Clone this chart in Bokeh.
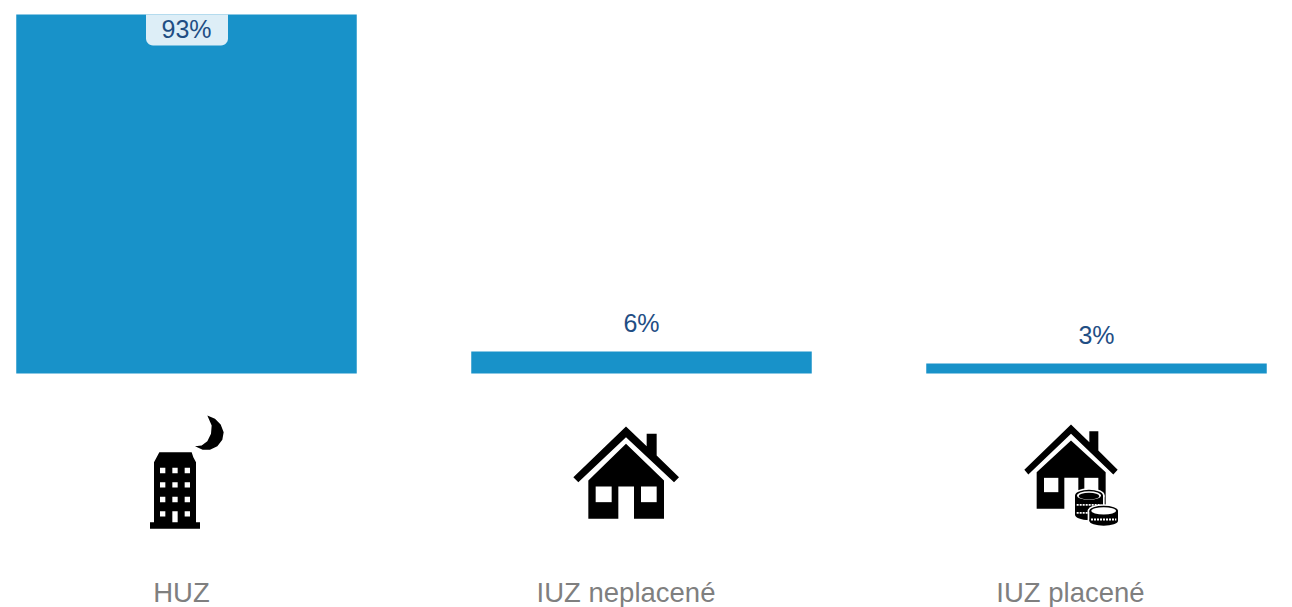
from bokeh.plotting import figure
from bokeh.models import Range1d, LinearAxis, FixedTicker
from bokeh.core.properties import value
from bokeh.embed import file_html
from bokeh.resources import INLINE
import numpy as np

categories = ["HUZ", "IUZ neplacené", "IUZ placené"]
shares = [93, 5.7, 2.6]

FONT = "Liberation Sans"
BAR = "#1892C9"
INK = "#1F4E84"
GREY = "#7F7F7F"
W, H = 1276, 576
LEFT, TOP = 0, 0          # page position of the plot frame
BASE, SCALE = 373, 359 / 93  # page y of value 0, pixels per percent
BAR_X, BAR_STEP, BAR_W = 186, 455, 340.5
LAB_X, LAB_STEP = 181, 444.5

p = figure(frame_width=W, frame_height=H, width=W, height=607,
           output_backend="svg", toolbar_location=None,
           x_axis_location=None, y_axis_location=None,
           x_range=Range1d((LEFT - BAR_X) / BAR_STEP, (LEFT + W - BAR_X) / BAR_STEP),
           y_range=Range1d((BASE - TOP - H) / SCALE, (BASE - TOP) / SCALE),
           min_border=0, min_border_left=0, min_border_right=0, min_border_top=0,
           min_border_bottom=0, outline_line_color=None, background_fill_color="white")
p.grid.visible = False

# reference-pixel space for the pictograms (half a pixel left of the frame edge)
p.extra_x_ranges["px"] = Range1d(LEFT + 0.5, LEFT + W + 0.5)
p.extra_y_ranges["py"] = Range1d(TOP + H, TOP)
p.extra_x_ranges["lab"] = Range1d((LEFT - LAB_X) / LAB_STEP, (LEFT + W - LAB_X) / LAB_STEP)

axis = LinearAxis(x_range_name="lab", ticker=FixedTicker(ticks=[0, 1, 2]),
                  major_label_overrides={i: c for i, c in enumerate(categories)},
                  axis_line_color=None, major_tick_line_color=None, minor_tick_line_color=None,
                  major_tick_in=0, major_tick_out=0, minor_tick_in=0, minor_tick_out=0,
                  major_label_standoff=0, major_label_text_font=FONT,
                  major_label_text_font_size="27.5px", major_label_text_color=GREY)
p.add_layout(axis, "below")

xs = list(range(len(categories)))
p.vbar(x=xs, top=shares, bottom=0, width=BAR_W / BAR_STEP, fill_color=BAR, line_color=None)


def shape(points, ox, oy, color="black", k=3.0):
    a = np.array(points, dtype=float)
    p.patch(a[:, 0] / k + ox, a[:, 1] / k + oy, fill_color=color, line_color=None,
            x_range_name="px", y_range_name="py")


# badge behind the 93% label
r = 7
t = np.linspace(0, np.pi / 2, 8)
left_c = [(146 + r - r * np.cos(a), 45 - r + r * np.sin(a)) for a in t]
right_c = [(228 - r + r * np.sin(a), 45 - r + r * np.cos(a)) for a in t]
shape([(146, 14)] + left_c + right_c + [(228, 14)], 0, 0, "#DDEEF7", k=1.0)

p.text(x=xs, y=shares, text=[f"{round(v)}%" for v in shares],
       y_offset=[14, -28, -28], text_align="center", text_baseline="middle",
       text_font=value(FONT), text_font_size="25px", text_color=INK)

# ---- building with moon
O = (130, 400)
shape([(232, 45), (255, 55), (272, 72), (281, 95), (277, 118), (262, 137), (240, 148), (218, 148),
       (195, 137), (215, 135), (232, 122), (243, 100), (245, 75)], *O)
shape([(60, 385), (60, 365), (72, 365), (72, 185), (80, 170), (88, 155), (185, 155), (190, 170),
       (198, 185), (198, 365), (210, 365), (210, 385)], *O)
for wy in (210, 253, 297, 340):
    for wx in (98, 135, 172):
        if wy == 340 and wx == 135:
            continue
        shape([(wx - 8, wy - 8), (wx + 8, wy - 8), (wx + 8, wy + 8), (wx - 8, wy + 8)], *O, "white")
shape([(127, 332), (143, 332), (143, 365), (127, 365)], *O, "white")

# ---- plain house
O = (560, 415)
shape([(198, 33), (260, 92), (260, 55), (290, 55), (290, 120), (357, 185), (342, 200), (198, 65),
       (55, 200), (40, 185)], *O)
shape([(198, 85), (312, 195), (312, 310), (222, 310), (222, 213), (175, 213), (175, 310), (85, 310),
       (85, 195)], *O)
shape([(107, 213), (155, 213), (155, 260), (107, 260)], *O, "white")
shape([(243, 213), (290, 213), (290, 260), (243, 260)], *O, "white")

# ---- house with coins
O = (1015, 415)
shape([(168, 27), (223, 80), (223, 47), (250, 47), (250, 105), (308, 163), (295, 177), (168, 55),
       (40, 177), (28, 163)], *O)
shape([(168, 75), (272, 170), (272, 280), (190, 280), (190, 187), (148, 187), (148, 280), (65, 280),
       (65, 170)], *O)
shape([(87, 187), (130, 187), (130, 230), (87, 230)], *O, "white")
shape([(208, 187), (250, 187), (250, 230), (208, 230)], *O, "white")


def coin_stack(cx, top, bottom, rx, ry, lines, hub):
    ox, oy = 1015, 415
    kw = dict(x_range_name="px", y_range_name="py")
    halo = 10
    # white halo, black body
    p.ellipse(cx / 3 + ox, top / 3 + oy, width=(2 * rx + halo) / 3, height=(2 * ry + halo) / 3,
              fill_color="white", line_color=None, **kw)
    p.ellipse(cx / 3 + ox, bottom / 3 + oy, width=(2 * rx + halo) / 3, height=(2 * ry + halo) / 3,
              fill_color="white", line_color=None, **kw)
    p.quad(left=(cx - rx - halo / 2) / 3 + ox, right=(cx + rx + halo / 2) / 3 + ox, top=top / 3 + oy,
           bottom=bottom / 3 + oy, fill_color="white", line_color=None, **kw)
    p.ellipse(cx / 3 + ox, bottom / 3 + oy, width=2 * rx / 3, height=2 * ry / 3,
              fill_color="black", line_color=None, **kw)
    p.quad(left=(cx - rx) / 3 + ox, right=(cx + rx) / 3 + ox, top=top / 3 + oy,
           bottom=bottom / 3 + oy, fill_color="black", line_color=None, **kw)
    for ly in lines:
        p.segment(x0=(cx - rx + 5) / 3 + ox, x1=(cx + rx - 5) / 3 + ox, y0=ly / 3 + oy, y1=ly / 3 + oy,
                  line_color="white", line_width=1.8, line_dash="2 1", **kw)
    p.ellipse(cx / 3 + ox, top / 3 + oy, width=2 * rx / 3, height=2 * ry / 3,
              fill_color="black", line_color=None, **kw)
    p.ellipse(cx / 3 + ox, top / 3 + oy, width=(2 * rx - 12) / 3, height=(2 * ry - 8) / 3,
              fill_color="white", line_color=None, **kw)
    if hub:
        p.ellipse(cx / 3 + ox, (top + 2) / 3 + oy, width=(2 * rx - 22) / 3, height=(2 * ry - 14) / 3,
                  fill_color="black", line_color=None, **kw)


coin_stack(222, 240, 297, 42, 17, [268, 292], True)
coin_stack(266, 286, 316, 43, 15, [312], False)

open("out.html", "w").write(file_html(p, INLINE))
